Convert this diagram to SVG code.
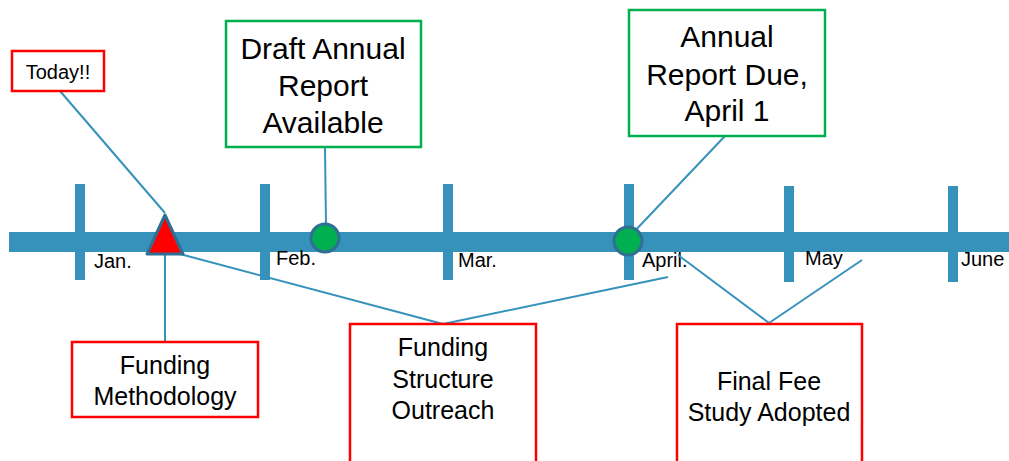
<svg xmlns="http://www.w3.org/2000/svg" width="1009" height="461" viewBox="0 0 1009 461">
<style>
.bar{fill:#3692bb}
.con{stroke:#3692bb;stroke-width:2;fill:none}
.rb{fill:#fff;stroke:#ff0000;stroke-width:2.5}
.gb{fill:#fff;stroke:#00b050;stroke-width:2.5}
text{font-family:"Liberation Sans",Arial,sans-serif;fill:#000}
.m{font-size:20px}
.big{font-size:30px;text-anchor:middle}
.mid{font-size:25px;text-anchor:middle}
.dot{fill:#00b050;stroke:#2f6f93;stroke-width:3}
</style>
<g id="timeline">
<rect class="bar" x="9" y="232" width="1000" height="20"/>
<rect class="bar" x="75" y="184" width="10" height="96"/>
<rect class="bar" x="260" y="184" width="10" height="96"/>
<rect class="bar" x="443" y="184" width="10" height="96"/>
<rect class="bar" x="624" y="184" width="10" height="96"/>
<rect class="bar" x="784" y="186" width="10" height="96"/>
<rect class="bar" x="948" y="186" width="10" height="96"/>
<text class="m" x="94" y="268">Jan.</text>
<text class="m" x="276" y="265">Feb.</text>
<text class="m" x="458" y="267">Mar.</text>
<text class="m" x="642" y="267">April.</text>
<text class="m" x="805" y="265">May</text>
<text class="m" x="961" y="266">June</text>
</g>
<g id="connectors">
<line class="con" x1="60" y1="91" x2="165" y2="213"/>
<line class="con" x1="325" y1="148" x2="326" y2="226"/>
<line class="con" x1="725" y1="136" x2="630" y2="236"/>
<line class="con" x1="165" y1="254" x2="165" y2="342"/>
<line class="con" x1="180" y1="254" x2="443" y2="324"/>
<line class="con" x1="668" y1="277" x2="443" y2="324"/>
<line class="con" x1="678" y1="255" x2="769" y2="323"/>
<line class="con" x1="862" y1="260" x2="769" y2="323"/>
</g>
<g id="today-marker">
<polygon points="165,215 147,254 183,254" fill="#ff0000" stroke="#2f6f93" stroke-width="3" stroke-linejoin="round"/>
</g>
<g id="draft-marker"><circle class="dot" cx="325" cy="238" r="14"/></g>
<g id="due-marker"><circle class="dot" cx="628" cy="241" r="14"/></g>
<g id="today">
<rect class="rb" x="12" y="51" width="92" height="40"/>
<text x="58" y="79" font-size="20" text-anchor="middle">Today!!</text>
</g>
<g id="draft">
<rect class="gb" x="226" y="21" width="195" height="126"/>
<text class="big" x="323" y="59">Draft Annual</text>
<text class="big" x="323" y="96">Report</text>
<text class="big" x="323" y="133">Available</text>
</g>
<g id="due">
<rect class="gb" x="629" y="10" width="196" height="126"/>
<text class="big" x="727" y="47">Annual</text>
<text class="big" x="727" y="85">Report Due,</text>
<text class="big" x="727" y="121">April 1</text>
</g>
<g id="methodology">
<rect class="rb" x="72" y="342" width="186" height="75"/>
<text class="mid" x="165" y="374">Funding</text>
<text class="mid" x="165" y="405">Methodology</text>
</g>
<g id="outreach">
<rect class="rb" x="350" y="324" width="186" height="150"/>
<text class="mid" x="443" y="356">Funding</text>
<text class="mid" x="443" y="388">Structure</text>
<text class="mid" x="443" y="419">Outreach</text>
</g>
<g id="feestudy">
<rect class="rb" x="677" y="324" width="185" height="150"/>
<text class="mid" x="769" y="390">Final Fee</text>
<text class="mid" x="769" y="421">Study Adopted</text>
</g>
</svg>
